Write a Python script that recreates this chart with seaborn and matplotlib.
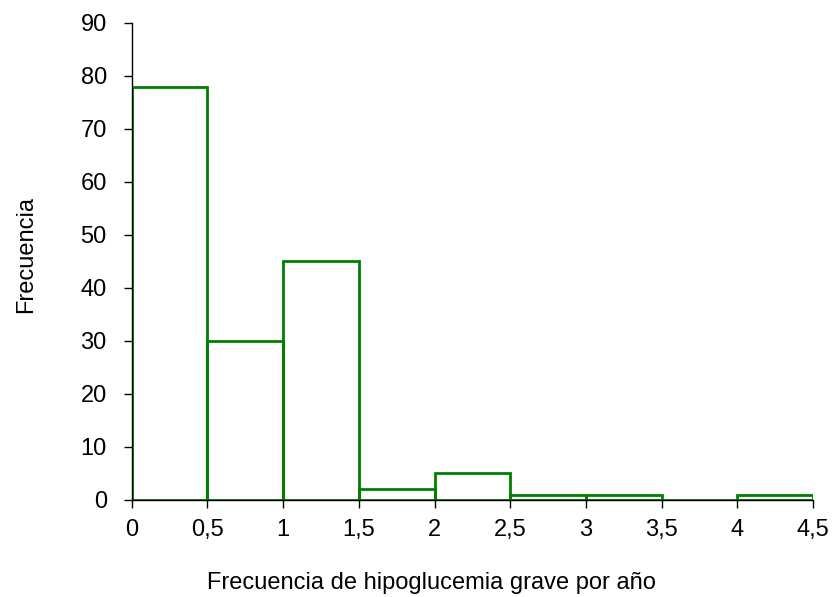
import numpy as np
import pandas as pd
import matplotlib
matplotlib.use("Agg")
import matplotlib.pyplot as plt
import seaborn as sns

bin_edges = [0, 0.5, 1, 1.5, 2, 2.5, 3, 3.5, 4, 4.5]
bin_centers = [0.25, 0.75, 1.25, 1.75, 2.25, 2.75, 3.25, 3.75, 4.25]
counts = [78, 30, 45, 2, 5, 1, 1, 0, 1]
x_ticks = [0, 0.5, 1, 1.5, 2, 2.5, 3, 3.5, 4, 4.5]
x_tick_labels = ["0", "0,5", "1", "1,5", "2", "2,5", "3", "3,5", "4", "4,5"]
y_ticks = [0, 10, 20, 30, 40, 50, 60, 70, 80, 90]

sns.set_style("white")
plt.rcParams['font.family'] = ['Liberation Sans', 'DejaVu Sans']
plt.rcParams['text.color'] = 'black'
plt.rcParams['xtick.color'] = 'black'
plt.rcParams['ytick.color'] = 'black'
plt.rcParams['axes.labelcolor'] = 'black'

df = pd.DataFrame({"x": bin_centers, "w": counts})

fig = plt.figure(figsize=(8.34, 5.97), dpi=100)
ax = fig.add_axes([0.158, 0.1625, 0.817, 0.799])
sns.histplot(data=df, x="x", weights="w", bins=bin_edges, element="bars",
             fill=False, color="#008000", linewidth=2, ax=ax)

ax.set_xlim(0, 4.5)
ax.set_ylim(0, 90)
ax.set_xticks(x_ticks)
ax.set_xticklabels(x_tick_labels)
ax.set_yticks(y_ticks)
for s in ["top", "right"]:
    ax.spines[s].set_visible(False)
for s in ["left", "bottom"]:
    ax.spines[s].set_color("black")
    ax.spines[s].set_linewidth(1)
ax.tick_params(axis="both", direction="out", length=6, width=1, color="black",
               labelsize=17, bottom=True, left=True)
ax.tick_params(axis="y", pad=12)
ax.tick_params(axis="x", pad=20)
for lbl in ax.get_xticklabels():
    lbl.set_verticalalignment("baseline")
ax.set_xlabel("Frecuencia de hipoglucemia grave por año", fontsize=17)
ax.xaxis.set_label_coords(0.4405, -0.150)
ax.set_ylabel("Frecuencia", fontsize=17)
ax.yaxis.set_label_coords(-0.139, 0.515)

fig.savefig("out.png", dpi=100)
